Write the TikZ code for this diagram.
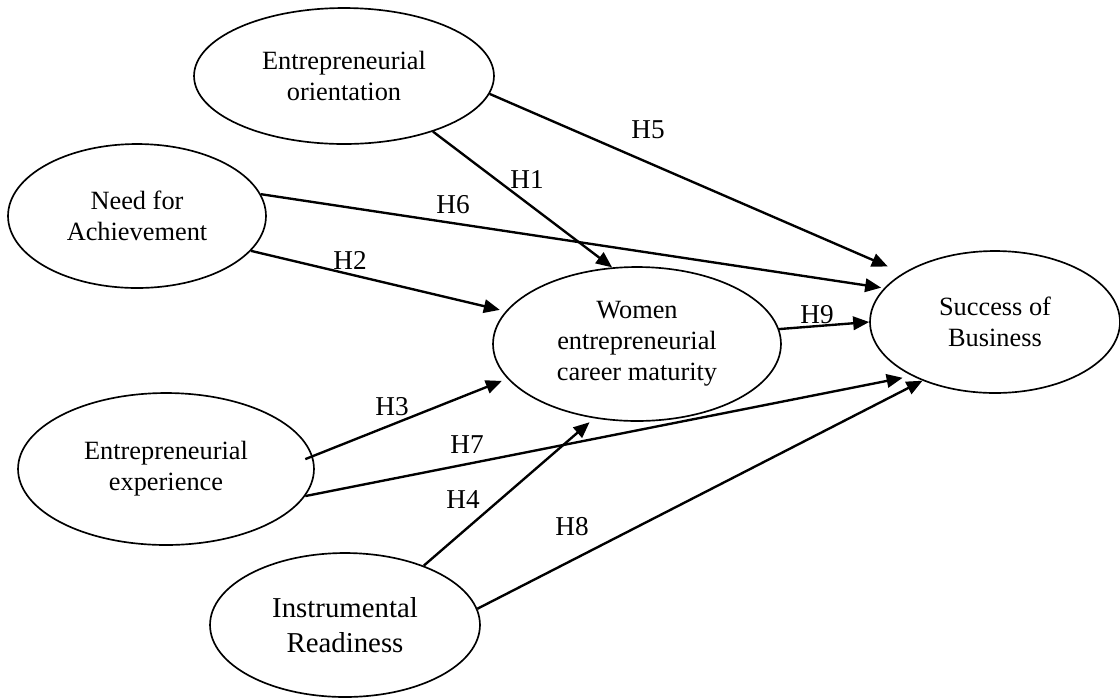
\documentclass[tikz,border=0pt]{standalone}
\usepackage{fontspec}
\setmainfont{Liberation Serif}
\usetikzlibrary{shapes.geometric,arrows.meta}
\tikzset{
  construct/.style={draw,ellipse,line width=0.95pt,inner sep=0pt,align=center,
    font=\fontsize{15}{17.6}\selectfont},
  hypo/.style={->,line width=1.35pt,shorten >=0.12cm},
  hlabel/.style={inner sep=0pt,font=\fontsize{15.5}{18}\selectfont}
}
\begin{document}
\begin{tikzpicture}[>={Triangle[length=0.32cm,width=0.27cm]},x=0.02cm,y=-0.02cm]
		\useasboundingbox (0,0) rectangle (1120,698);
		% constructs
		\node[construct,minimum width=6cm,minimum height=2.72cm] (eo) at (344,76) {Entrepreneurial\\orientation};
		\node[construct,minimum width=5.16cm,minimum height=2.88cm] (nfa) at (137,216) {Need for\\Achievement};
		\node[construct,minimum width=5.92cm,minimum height=3.04cm] (ee) at (166,469) {Entrepreneurial\\experience};
		\node[construct,minimum width=5.4cm,minimum height=2.88cm,font=\fontsize{16.4}{19.9}\selectfont] (ir) at (345,625) {Instrumental\\Readiness};
		\node[construct,minimum width=5.76cm,minimum height=3.08cm] (wecm) at (637,344) {Women\\entrepreneurial\\career maturity};
		\node[construct,minimum width=5cm,minimum height=2.84cm] (sb) at (995,322) {Success of\\Business};
		% hypotheses
		\draw[hypo,shorten >=0pt] (eo.-32.5) -- (wecm.108);
		\draw[hypo,shorten >=0.33cm] (eo.-7.3) -- (sb.152.8);
		\draw[hypo,shorten >=0.06cm] (nfa.10.9) -- (sb.163.4);
		\draw[hypo] (nfa.-17) -- (wecm.166);
		\draw[hypo,shorten <=-0.16cm] (ee.5) -- (wecm.195);
		\draw[hypo,shorten >=0.19cm] (ee.-11.6) -- (sb.-147.8);
		\draw[hypo] (ir.37) -- (wecm.-120.8);
		\draw[hypo,shorten >=0pt] (ir.7.7) -- (sb.-141.1);
		\draw[hypo,shorten >=0pt] (wecm.6.7) -- (sb.180);
		% labels
		\node[hlabel] (h1) at (527,180) {H1};
		\node[hlabel] (h2) at (350,260) {H2};
		\node[hlabel] (h3) at (392,407) {H3};
		\node[hlabel] (h4) at (463,500) {H4};
		\node[hlabel] (h5) at (648,130) {H5};
		\node[hlabel] (h6) at (453,205) {H6};
		\node[hlabel] (h7) at (467,445) {H7};
		\node[hlabel] (h8) at (572,527) {H8};
		\node[hlabel] (h9) at (817,315) {H9};
	\end{tikzpicture}
\end{document}
